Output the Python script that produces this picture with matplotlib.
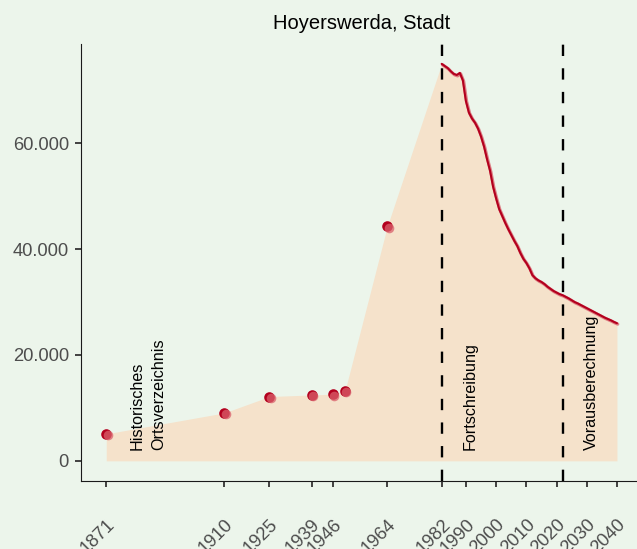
import matplotlib
matplotlib.use("Agg")
import matplotlib.pyplot as plt
import matplotlib.transforms as mtransforms

plt.rcParams['font.family'] = ['Liberation Sans', 'DejaVu Sans']

# historic census counts (Historisches Ortsverzeichnis)
hist_years = [1871, 1910, 1925, 1939, 1946, 1950, 1964]
hist_pop = [5100, 9050, 12150, 12450, 12600, 13200, 44300]

# annual update (Fortschreibung) and projection (Vorausberechnung)
fort_years = [1982, 1983, 1984, 1985, 1986, 1987, 1988, 1989, 1990, 1991,
              1992, 1993, 1994, 1995, 1996, 1997, 1998, 1999, 2000, 2001,
              2002, 2003, 2004, 2005, 2006, 2007, 2008, 2009, 2010, 2011,
              2012, 2013, 2014, 2015, 2016, 2017, 2018, 2019, 2020, 2021, 2022]
fort_pop = [75000, 74600, 74200, 73600, 73100, 72900, 73300, 71900, 68000, 65800,
            64700, 63900, 62800, 61300, 59400, 57000, 54800, 51800, 49600, 47600,
            46300, 45000, 43800, 42700, 41600, 40600, 39300, 38200, 37400, 36400,
            35100, 34500, 34100, 33800, 33400, 32900, 32500, 32100, 31800, 31500, 31300]
proj_years = [2022, 2023, 2024, 2025, 2026, 2027, 2028, 2029, 2030, 2031,
              2032, 2033, 2034, 2035, 2036, 2037, 2038, 2039, 2040]
proj_pop = [31300, 31000, 30700, 30350, 30000, 29750, 29450, 29150, 28850, 28550,
            28250, 27950, 27650, 27350, 27050, 26800, 26550, 26250, 26000]

tick_years = [1871, 1910, 1925, 1939, 1946, 1964, 1982, 1990, 2000, 2010, 2020, 2030, 2040]
y_ticks = [0, 20000, 40000, 60000]
y_labels = ['0', '20.000', '40.000', '60.000']
breaks = [1982, 2022]
period_labels = ['Historisches\nOrtsverzeichnis', 'Fortschreibung', 'Vorausberechnung']
label_x = [1884.8, 1991.4, 2031.6]

bg = '#ECF5EB'
fill_col = '#F5E2CB'
dark_red = '#B3001E'
light_red = '#D9606B'

fig = plt.figure(figsize=(6.37, 5.49), dpi=100, facecolor=bg)
W, H = 637, 549
ax = fig.add_axes([80.7 / W, 1 - 480.7 / H, (642.5 - 80.7) / W, (480.7 - 44.0) / H])
ax.set_facecolor(bg)

all_years = hist_years + fort_years + proj_years[1:]
all_pop = hist_pop + fort_pop + proj_pop[1:]
ax.fill_between(all_years, 0, all_pop, color=fill_col, lw=0, zorder=1)

line_years = fort_years + proj_years[1:]
line_pop = fort_pop + proj_pop[1:]
shift = mtransforms.offset_copy(ax.transData, fig=fig, x=0.8, y=-0.9, units='dots')
ax.plot(line_years, line_pop, color=light_red, lw=2.3, alpha=0.8, transform=shift,
        zorder=3, solid_capstyle='round')
ax.plot(line_years, line_pop, color=dark_red, lw=1.5, zorder=4, solid_capstyle='round')

ax.scatter(hist_years, hist_pop, s=58, color=dark_red, lw=0, zorder=5)
pshift = mtransforms.offset_copy(ax.transData, fig=fig, x=1.5, y=-1.5, units='dots')
ax.scatter(hist_years, hist_pop, s=48, color=light_red, alpha=0.75, lw=0, zorder=6,
           transform=pshift)

for b in breaks:
    ax.axvline(b, color='black', lw=1.7, dashes=(4.8, 5.2), zorder=7)

for txt, xx in zip(period_labels, label_x):
    ax.text(xx, 2100, txt, rotation=90, rotation_mode='anchor', ha='left', va='center',
            fontsize=11.6, color='black', zorder=8, linespacing=1.55)

ax.set_xlim(1862.55, 2048.45)
ax.set_ylim(-3750, 78750)
ax.set_xticks(tick_years)
ax.set_xticklabels([str(t) for t in tick_years], rotation=45, ha='right', va='top',
                   rotation_mode='anchor')
ax.set_yticks(y_ticks)
ax.set_yticklabels(y_labels)

for s in ['top', 'right']:
    ax.spines[s].set_visible(False)
for s in ['left', 'bottom']:
    ax.spines[s].set_color('#1a1a1a')
    ax.spines[s].set_linewidth(0.8)
ax.tick_params(axis='both', colors='#333333', length=4.5, width=1.3, labelsize=13.2,
               labelcolor='#4D4D4D')
ax.tick_params(axis='y', pad=4)
ax.tick_params(axis='x', pad=21)

ax.set_title('Hoyerswerda, Stadt', fontsize=14.5, color='black', pad=11)

fig.savefig('out.png', dpi=100, facecolor=bg)
